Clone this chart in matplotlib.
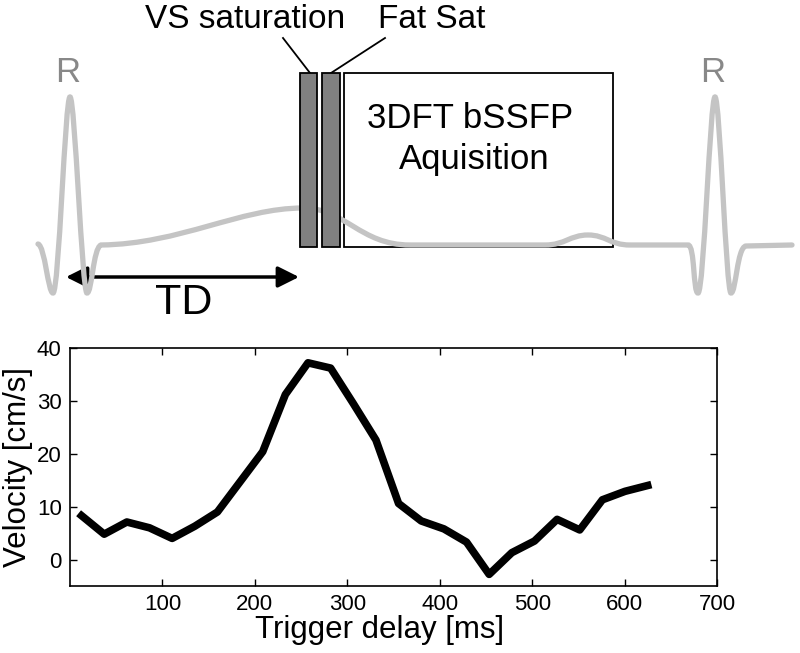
import matplotlib
matplotlib.use("Agg")
import matplotlib.pyplot as plt
from matplotlib.path import Path
from matplotlib.patches import PathPatch, Rectangle, FancyArrowPatch

plt.rcParams['font.family'] = ['Liberation Sans', 'DejaVu Sans']

# measured velocity curve
delay_ms = [12.5, 37, 61.5, 86, 110.5, 135, 159.5, 184, 208.5, 233, 257.5, 282, 306.5,
            331, 355.5, 380, 404.5, 429, 453.5, 478, 502.5, 527, 551.5, 576, 600.5, 625]
velocity = [8.3, 4.8, 7.1, 6.0, 4.0, 6.3, 9.0, 14.7, 20.4, 31.2, 37.2, 36.2, 29.5,
            22.6, 10.6, 7.3, 5.8, 3.3, -2.8, 1.3, 3.5, 7.6, 5.6, 11.3, 12.9, 14.0]
x_ticks = [100, 200, 300, 400, 500, 600, 700]
y_ticks = [0, 10, 20, 30, 40]

# schematic (diagram units = pixels, y pointing down)
ecg_verts = [
    (38, 244),
    (45, 246), (48, 293), (53, 293),
    (59, 293), (65, 97), (70, 97),
    (75, 97), (82, 293), (87, 293),
    (92, 293), (93, 248), (101, 245),
    (180, 244), (240, 208), (303, 208),
    (345, 208), (360, 245), (410, 245),
    (545, 245),
    (565, 245), (570, 235), (588, 235),
    (606, 235), (610, 245), (630, 245),
    (688, 245),
    (695, 245), (693, 293), (698, 293),
    (704, 293), (710, 97), (715, 97),
    (720, 97), (726, 293), (731, 293),
    (736, 293), (737, 247), (746, 246),
    (792, 245),
]
ecg_codes = ([Path.MOVETO] + [Path.CURVE4] * 18 + [Path.LINETO] + [Path.CURVE4] * 6
             + [Path.LINETO] + [Path.CURVE4] * 12 + [Path.LINETO])
sat_boxes = [(300, 73, 17, 174), (322, 73, 18, 174)]   # x, y, w, h
acq_box = (344, 73, 269, 174)

fig = plt.figure(figsize=(8, 6.53), dpi=100)

# diagram layer
dg = fig.add_axes([0, 0, 1, 1])
dg.set_xlim(0, 800)
dg.set_ylim(653, 0)
dg.axis('off')

dg.add_patch(Rectangle(acq_box[:2], acq_box[2], acq_box[3], facecolor='none',
                       edgecolor='black', lw=1.3, zorder=1))
dg.add_patch(PathPatch(Path(ecg_verts, ecg_codes), facecolor='none',
                       edgecolor='#c4c4c4', lw=3.8, capstyle='round', zorder=2))
for bx, by, bw, bh in sat_boxes:
    dg.add_patch(Rectangle((bx, by), bw, bh, facecolor='#808080',
                           edgecolor='black', lw=1.3, zorder=3))

dg.text(68, 73, 'R', color='#888888', fontsize=25, ha='center', va='center')
dg.text(713, 73, 'R', color='#888888', fontsize=25, ha='center', va='center')
dg.text(245, 19, 'VS saturation', fontsize=24, ha='center', va='center')
dg.text(432, 19, 'Fat Sat', fontsize=24, ha='center', va='center')
dg.plot([283, 310], [38, 73], color='black', lw=1.3)
dg.plot([385, 331], [38, 73], color='black', lw=1.3)
dg.text(470, 118, '3DFT bSSFP', fontsize=25, ha='center', va='center')
dg.text(474, 160, 'Aquisition', fontsize=25, ha='center', va='center')

dg.add_patch(FancyArrowPatch((66, 277), (299, 277), arrowstyle='<|-|>',
                             mutation_scale=32, color='black', lw=2.5,
                             shrinkA=0, shrinkB=0))
dg.text(184, 303, 'TD', fontsize=31, ha='center', va='center')

# velocity plot
ax = fig.add_axes([70 / 800, 67 / 653, 647 / 800, 238 / 653])
ax.plot(delay_ms, velocity, color='black', lw=5.5)
ax.set_xlim(0, 700)
ax.set_ylim(-5, 40)
ax.set_xticks(x_ticks)
ax.set_yticks(y_ticks)
ax.tick_params(direction='in', top=True, right=True, length=5, width=1,
               labelsize=16, pad=6)
for s in ax.spines.values():
    s.set_linewidth(1.2)
ax.set_xlabel('Trigger delay [ms]', fontsize=22.5, labelpad=0)
ax.xaxis.label.set_x(0.479)
ax.set_ylabel('Velocity [cm/s]', fontsize=22.5, labelpad=3)

fig.savefig('out.png', dpi=100)
